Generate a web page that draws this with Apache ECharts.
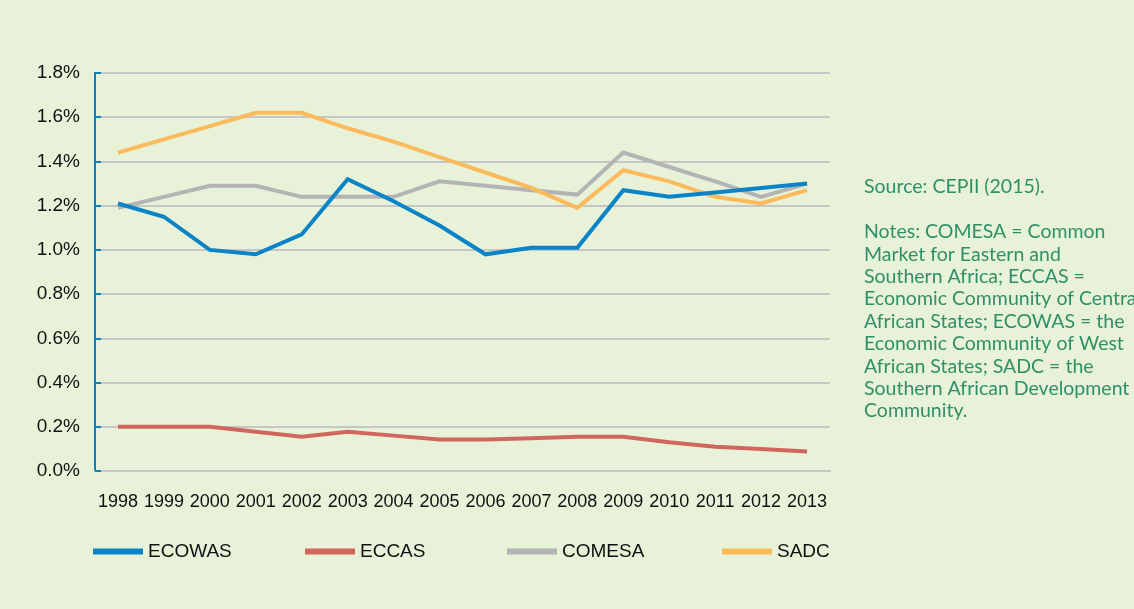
<!DOCTYPE html>
<html>
<head>
<meta charset="utf-8">
<script src="https://cdn.jsdelivr.net/npm/echarts@6/dist/echarts.min.js"></script>
<style>
  html, body { margin: 0; padding: 0; background: #e8f2d8; }
  #chart { width: 1134px; height: 609px; }
</style>
</head>
<body>
<div id="chart"></div>
<script>
// years on the x axis
const years = ['1998', '1999', '2000', '2001', '2002', '2003', '2004', '2005',
  '2006', '2007', '2008', '2009', '2010', '2011', '2012', '2013']

// share of world trade, in %
const ecowas = [1.21, 1.15, 1.00, 0.98, 1.07, 1.32, 1.22, 1.11, 0.98, 1.01, 1.01, 1.27, 1.24, 1.26, 1.28, 1.30]
const eccas = [0.20, 0.20, 0.20, 0.178, 0.155, 0.178, 0.16, 0.143, 0.143, 0.148, 0.155, 0.155, 0.13, 0.11, 0.10, 0.088]
const comesa = [1.19, 1.24, 1.29, 1.29, 1.24, 1.24, 1.24, 1.31, 1.29, 1.27, 1.25, 1.44, 1.375, 1.31, 1.24, 1.30]
const sadc = [1.44, 1.50, 1.56, 1.62, 1.62, 1.55, 1.49, 1.42, 1.35, 1.28, 1.19, 1.36, 1.31, 1.24, 1.21, 1.27]

const noteLines = [
  'Source: CEPII (2015).',
  '',
  'Notes: COMESA = Common',
  'Market for Eastern and',
  'Southern Africa; ECCAS =',
  'Economic Community of Central',
  'African States; ECOWAS = the',
  'Economic Community of West',
  'African States; SADC = the',
  'Southern African Development',
  'Community.'
]

const colors = {
  ECOWAS: '#0a84c6',
  ECCAS: '#d1665f',
  COMESA: '#b4b4b4',
  SADC: '#fbbb5c'
}

const chart = echarts.init(document.getElementById('chart'))

const mkSeries = (name, data, z) => ({
  name,
  type: 'line',
  data,
  z,
  symbol: 'none',
  lineStyle: { width: 4, color: colors[name], join: 'miter' },
  itemStyle: { color: colors[name] }
})

// one legend per item so each can sit where the original does
const legendAt = (name, left) => ({
  data: [name],
  left,
  top: 542,
  icon: 'rect',
  itemWidth: 50,
  itemHeight: 6,
  itemGap: 0,
  padding: 0,
  textStyle: { fontFamily: 'Liberation Sans', fontSize: 19, color: '#111' }
})

chart.setOption({
  backgroundColor: '#e8f2d8',
  animation: false,
  grid: { left: 95, right: 304, top: 73, bottom: 138 },
  legend: [
    legendAt('ECOWAS', 93),
    legendAt('ECCAS', 305),
    legendAt('COMESA', 507),
    legendAt('SADC', 722)
  ],
  xAxis: {
    type: 'category',
    data: years,
    boundaryGap: true,
    axisLine: { lineStyle: { color: '#c6c6c6', width: 2 } },
    axisTick: { show: false },
    axisLabel: {
      interval: 0,
      margin: 22,
      fontFamily: 'Liberation Sans',
      fontSize: 18,
      color: '#111'
    }
  },
  yAxis: {
    type: 'value',
    min: 0,
    max: 1.8,
    interval: 0.2,
    axisLine: { show: true, lineStyle: { color: '#0a7fc2', width: 2 } },
    axisTick: { show: true, inside: true, length: 6, lineStyle: { color: '#0a7fc2', width: 2 } },
    splitLine: { lineStyle: { color: '#c6c6c6', width: 2 } },
    axisLabel: {
      margin: 15,
      fontFamily: 'Liberation Sans',
      fontSize: 19,
      color: '#111',
      formatter: v => v.toFixed(1) + '%'
    }
  },
  graphic: noteLines.map((t, i) => ({
    type: 'text',
    x: 864,
    y: 187 + (i === 0 ? 0 : 45 + (i - 2) * 22.4),
    silent: true,
    style: {
      text: t,
      fill: '#2f9068',
      verticalAlign: 'middle',
      font: '19.5px Lato, "Open Sans", sans-serif'
    }
  })),
  series: [
    mkSeries('ECOWAS', ecowas, 4),
    mkSeries('ECCAS', eccas, 2),
    mkSeries('COMESA', comesa, 2),
    mkSeries('SADC', sadc, 3)
  ]
})
</script>
</body>
</html>
